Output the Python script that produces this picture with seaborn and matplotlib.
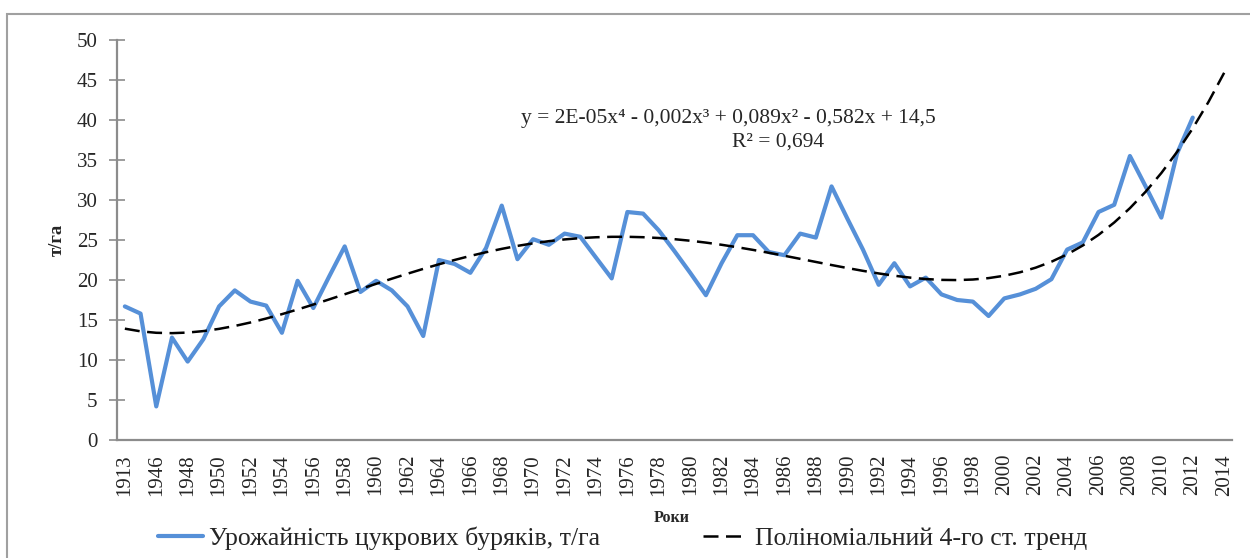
import numpy as np
import pandas as pd
import seaborn as sns
import matplotlib.pyplot as plt
from matplotlib.ticker import MultipleLocator, FixedLocator
from matplotlib.patches import Rectangle

# category axis: 1913, (hidden year), 1946 ... 2014
years = ["1913", "1940"] + [str(y) for y in range(1946, 2015)]

# sugar beet yield, t/ha (1913 ... 2012)
yields = [16.7, 15.8, 4.2, 12.8, 9.8, 12.6, 16.7, 18.7, 17.3, 16.8,
          13.4, 19.9, 16.5, 20.4, 24.2, 18.5, 19.9, 18.7, 16.7, 13.0,
          22.5, 22.0, 20.9, 24.0, 29.3, 22.6, 25.1, 24.4, 25.8, 25.4,
          22.8, 20.2, 28.5, 28.3, 26.2, 23.6, 20.9, 18.1, 22.1, 25.6,
          25.6, 23.5, 23.1, 25.8, 25.3, 31.7, 27.7, 23.8, 19.4, 22.1,
          19.2, 20.3, 18.2, 17.5, 17.3, 15.5, 17.7, 18.2, 18.9, 20.1,
          23.8, 24.7, 28.5, 29.4, 35.5, 31.7, 27.8, 35.8, 40.3]

yield_label = "Урожайність цукрових буряків, т/га"
trend_label = "Поліноміальний 4-го ст. тренд"
equation = "y = 2E-05x\u2074 - 0,002x\u00b3 + 0,089x\u00b2 - 0,582x + 14,5"
r2_text = "R² = 0,694"

BLUE = "#5690D8"
GREY = "#8C8C8C"

sns.set_theme(style="white")
plt.rcParams["font.family"] = ["Liberation Serif", "DejaVu Serif"]

# 4th degree polynomial trend, fitted like Excel (x = 1..n), extended to the last category
n = len(yields)
xs = np.arange(1, n + 1)
coef = np.polyfit(xs, yields, 4)
x_trend = np.arange(1, len(years) + 1)
trend = np.polyval(coef, x_trend)

df = pd.DataFrame({"idx": np.arange(n), "value": yields})
df_trend = pd.DataFrame({"idx": x_trend - 1, "value": trend})

fig = plt.figure(figsize=(12.5, 5.58), dpi=100)
ax = fig.add_axes([117 / 1250, 118 / 558, 1115 / 1250, 400 / 558])

sns.lineplot(data=df, x="idx", y="value", ax=ax, color=BLUE, lw=3.0, label=yield_label)
sns.lineplot(data=df_trend, x="idx", y="value", ax=ax, color="black", lw=1.8,
             linestyle=(0, (6, 3)), label=trend_label)

ax.set_xlim(-0.5, len(years) - 0.5)
ax.set_ylim(0, 50)

ax.set_xticks(np.arange(0, len(years), 2))
ax.set_xticklabels(years[::2], rotation=90, fontsize=15)
ax.xaxis.set_minor_locator(FixedLocator(np.arange(-0.5, len(years), 1)))
ax.tick_params(axis="x", which="major", length=0, pad=10)
ax.tick_params(axis="x", which="minor", direction="in", length=5, width=1.2, color=GREY)

ax.yaxis.set_major_locator(MultipleLocator(5))
ax.yaxis.set_minor_locator(MultipleLocator(1))
ax.tick_params(axis="y", which="major", direction="inout", length=12, width=1.2,
               color=GREY, labelsize=15, pad=8, left=True)
ax.tick_params(axis="y", which="minor", direction="in", length=4, width=1.0, color=GREY)

for side in ["top", "right"]:
    ax.spines[side].set_visible(False)
for side in ["left", "bottom"]:
    ax.spines[side].set_color(GREY)
    ax.spines[side].set_linewidth(1.6)

ax.set_xlabel("")
ax.set_ylabel("т/га", fontsize=13.5, fontweight="bold", labelpad=8)

fig.text(728 / 1250, 1 - 118 / 558, equation, ha="center", va="center", fontsize=15.5)
fig.text(778 / 1250, 1 - 142 / 558, r2_text, ha="center", va="center", fontsize=15.5)

fig.text(672 / 1250, 1 - 518 / 558, "Роки", ha="center", va="center",
         fontsize=11.5, fontweight="bold")

ax.get_legend().remove()
handles, labels = ax.get_legend_handles_labels()
fig.legend(handles, labels, loc="center left", bbox_to_anchor=(158 / 1250, 1 - 538 / 558),
           ncol=2, frameon=False, fontsize=18.5, handlelength=1.75, handletextpad=0.25,
           columnspacing=4.0, borderaxespad=0, borderpad=0)

# outer chart frame (right and bottom edges fall outside the picture)
fig.patches.append(Rectangle((7 / 1250, -0.1), 1.2, 1.1 - 14 / 558, transform=fig.transFigure,
                             fill=False, edgecolor="#A0A0A0", lw=1.5))

fig.savefig("out.png", dpi=100)
